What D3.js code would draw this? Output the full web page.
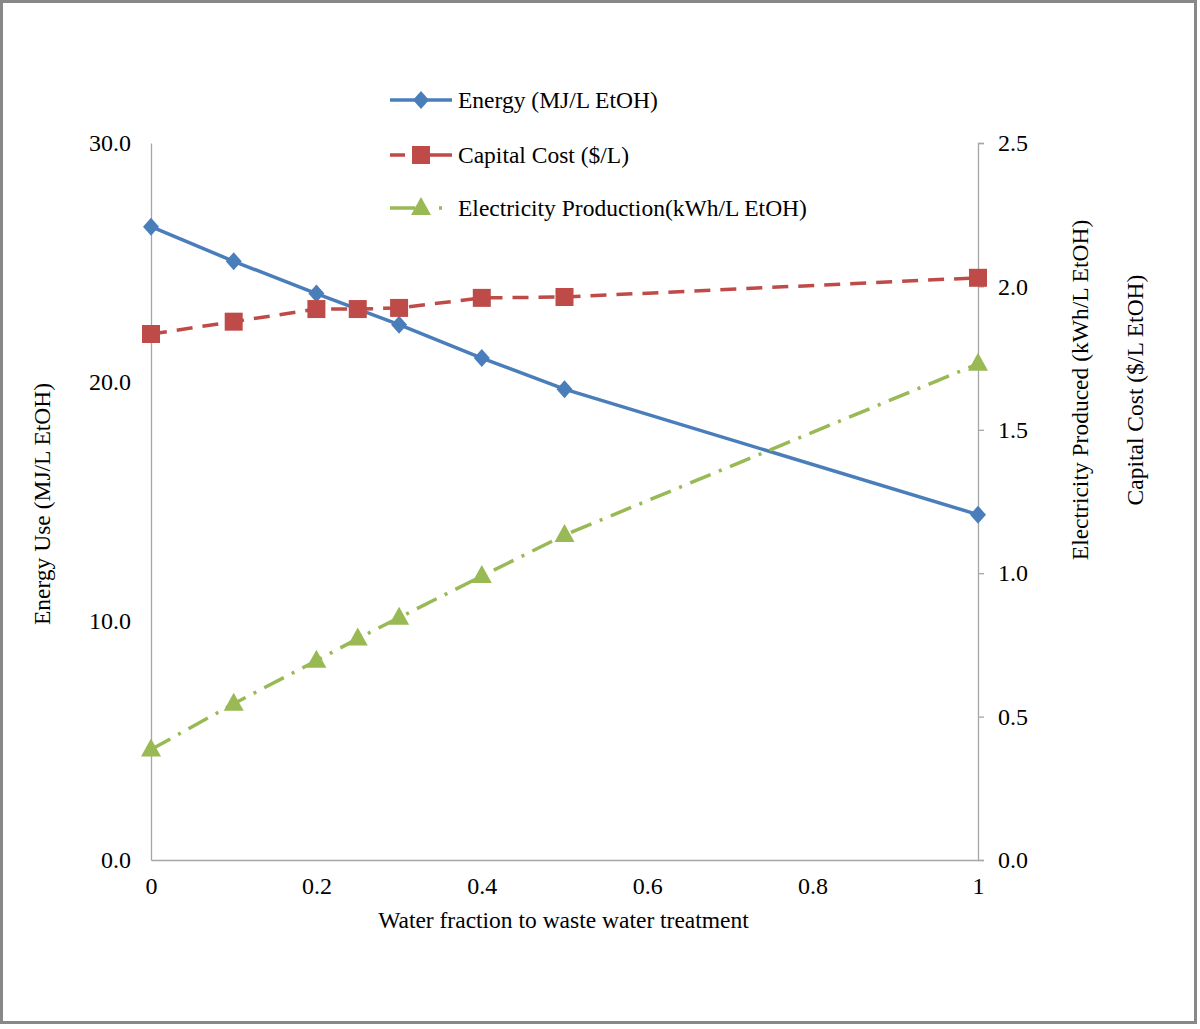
<!DOCTYPE html>
<html><head><meta charset="utf-8">
<script src="https://cdn.jsdelivr.net/npm/d3@7"></script>
<style>body{margin:0;background:#fff}svg text{font-family:"Liberation Serif","Times New Roman",serif;fill:#000}</style>
</head><body><svg id="c" width="1200" height="1029" font-family="Liberation Serif"></svg>
<script>
const xVals = [0, 0.1, 0.2, 0.25, 0.3, 0.4, 0.5, 1];
const energy = [26.5, 25.05, 23.7, 23.05, 22.4, 21.0, 19.7, 14.45];
const capital = [1.834, 1.877, 1.921, 1.921, 1.925, 1.96, 1.963, 2.03];
const electricity = [0.385, 0.545, 0.695, 0.772, 0.845, 0.99, 1.133, 1.73];
const leftTicks = [0, 10, 20, 30];
const rightTicks = [0, 0.5, 1.0, 1.5, 2.0, 2.5];
const xTicks = [0, 0.2, 0.4, 0.6, 0.8, 1];
const seriesNames = ["Energy (MJ/L EtOH)", "Capital Cost ($/L)", "Electricity Production(kWh/L EtOH)"];

const svg = d3.select("#c");
const L = 151, R = 978, T = 143, B = 860;
const x = d3.scaleLinear().domain([0, 1]).range([L, R]);
const yL = d3.scaleLinear().domain([0, 30]).range([B, T]);
const yR = d3.scaleLinear().domain([0, 2.5]).range([B, T]);
const blue = "#4A7EBB", red = "#BE4B48", green = "#98B954", axisC = "#A6A6A6";
const FF = '"Liberation Serif","Times New Roman",serif';

// frame
svg.append("rect").attr("x", 1.5).attr("y", 1.5).attr("width", 1194).attr("height", 1021)
  .attr("fill", "none").attr("stroke", "#888").attr("stroke-width", 3);

// axes
const gl = svg.append("g").attr("transform", `translate(${L},0)`)
  .call(d3.axisLeft(yL).tickValues(leftTicks).tickSize(0).tickPadding(20).tickFormat(d3.format(".1f")));
const gr = svg.append("g").attr("transform", `translate(${R},0)`)
  .call(d3.axisRight(yR).tickValues(rightTicks).tickSize(6).tickPadding(14).tickFormat(d3.format(".1f")));
const gb = svg.append("g").attr("transform", `translate(0,${B})`)
  .call(d3.axisBottom(x).tickValues(xTicks).tickSize(0).tickPadding(17).tickFormat(d3.format("")));
[gl, gr, gb].forEach(g => {
  g.attr("font-family", FF);
  g.select(".domain").attr("stroke", axisC).attr("stroke-width", 1.3);
  g.selectAll(".tick line").attr("stroke", axisC).attr("stroke-width", 1.3);
  g.selectAll("text").style("font-family", FF).style("font-size", "24px").attr("fill", "#000");
});
gb.selectAll(".tick text").attr("dy", "0.71em");

// axis titles
const title = (t) => svg.append("text").style("font-family", FF).style("font-size", "23.5px").attr("text-anchor", "middle").text(t);
title("Water fraction to waste water treatment").attr("x", (L + R) / 2 - 1).attr("y", 928);
title("Energy Use (MJ/L EtOH)").attr("transform", "translate(50,504) rotate(-90)");
title("Electricity Produced (kWh/L EtOH)").attr("transform", "translate(1088,390) rotate(-90)");
title("Capital Cost ($/L EtOH)").attr("transform", "translate(1143,390) rotate(-90)");

// series
const data = (vals) => xVals.map((v, i) => [v, vals[i]]);
const lineL = d3.line().x(d => x(d[0])).y(d => yL(d[1]));
const lineR = d3.line().x(d => x(d[0])).y(d => yR(d[1]));
const diamondPath = "M0,-9L8,0L0,9L-8,0Z";
const squarePath = "M-9,-9H9V9H-9Z";
const triPath = "M0,-11L10,7L-10,7Z";

function drawSeries(vals, lineGen, yS, color, dash, marker) {
  svg.append("path").datum(data(vals)).attr("d", lineGen).attr("fill", "none")
    .attr("stroke", color).attr("stroke-width", 3.5).attr("stroke-dasharray", dash);
  svg.append("g").selectAll("path").data(data(vals)).join("path")
    .attr("transform", d => `translate(${x(d[0])},${yS(d[1])})`)
    .attr("d", marker).attr("fill", color);
}
drawSeries(energy, lineL, yL, blue, null, diamondPath);
drawSeries(capital, lineR, yR, red, "16,10", squarePath);
drawSeries(electricity, lineR, yR, green, "22,9,3,9", triPath);

// legend
const lg = svg.append("g");
const legY = [100, 155, 208];
const legColors = [blue, red, green];
const legDash = [null, "15,10,40,10", "25,24,3,30"];
const legMarkers = [diamondPath, squarePath, triPath];
seriesNames.forEach((n, i) => {
  lg.append("line").attr("x1", 390).attr("x2", 452).attr("y1", legY[i]).attr("y2", legY[i])
    .attr("stroke", legColors[i]).attr("stroke-width", 3.5).attr("stroke-dasharray", legDash[i]);
  lg.append("path").attr("d", legMarkers[i]).attr("transform", `translate(421,${legY[i]})`).attr("fill", legColors[i]);
  lg.append("text").attr("x", 458).attr("y", legY[i]).attr("dy", "0.35em")
    .style("font-family", FF).style("font-size", "23.5px").text(n);
});
</script></body></html>
